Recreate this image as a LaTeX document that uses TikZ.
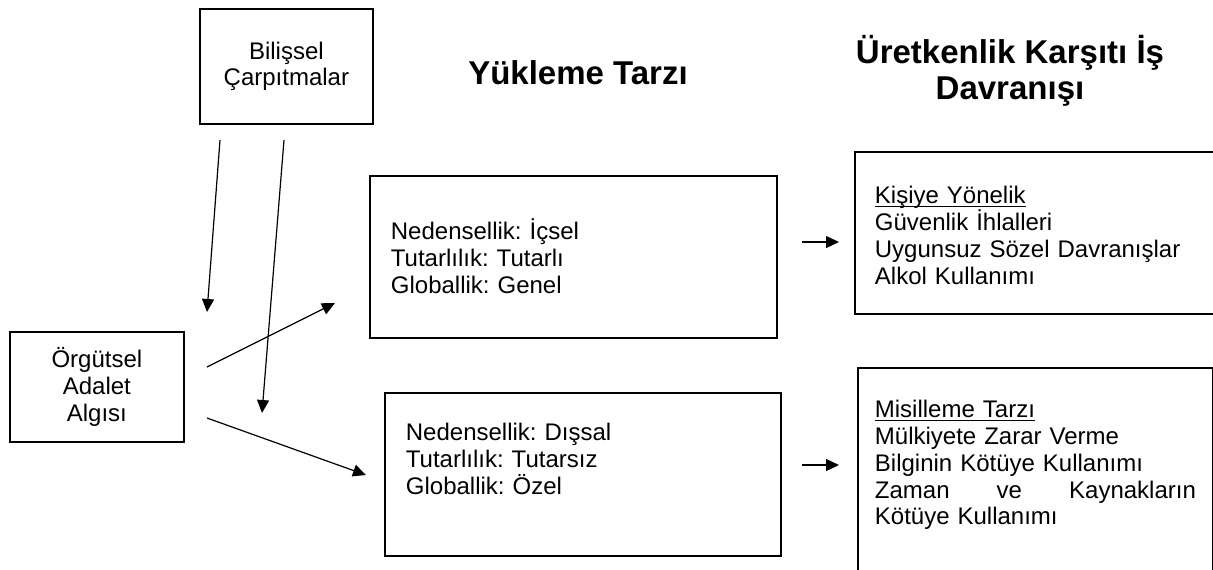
\documentclass[tikz,border=0pt]{standalone}
\usepackage{fontspec}
\setmainfont{Liberation Sans}
\usetikzlibrary{arrows.meta,positioning}
\frenchspacing
\newcommand{\ulin}[1]{\underline{\smash{#1}}}
\tikzset{
  basebox/.style={rectangle,draw=black,line width=0.9pt,
                  font=\fontsize{12}{13.35}\selectfont},
  ctrbox/.style={basebox,align=center,anchor=north west},
  leftbox/.style={basebox,align=left,anchor=north west,inner ysep=0pt},
  headtxt/.style={font=\fontsize{16.5}{18}\selectfont\bfseries,align=center},
  arr/.style={-{Triangle[length=6.5pt,width=6pt]},line width=0.6pt}
}

\begin{document}
\begin{tikzpicture}[x=0.5pt,y=-0.5pt]
  \useasboundingbox (0,0) rectangle (1213,569);

  % Headings
  \node[headtxt] (yukleme) at (578,73) {Yükleme Tarzı};
  \node[headtxt] (uretkenlik) at (1010,71) {Üretkenlik Karşıtı İş\\Davranışı};

  % Left column
  \node[ctrbox,minimum width=86.5pt,minimum height=57.5pt] (bilissel)
      at (199,8) {Bilişsel\\Çarpıtmalar};
  \node[ctrbox,minimum width=87pt,minimum height=55pt] (orgutsel)
      at (9,331) {Örgütsel\\Adalet\\Algısı};

  % Attribution boxes
  \node[leftbox,inner xsep=10.5pt,text width=182.5pt,
        text height=32pt,text depth=49pt] (icsel) at (369,175)
      {Nedensellik: İçsel\\Tutarlılık: Tutarlı\\Globallik: Genel};
  \node[leftbox,inner xsep=10.5pt,text width=177pt,
        text height=24pt,text depth=57.5pt] (dissal) at (384,392)
      {Nedensellik: Dışsal\\Tutarlılık: Tutarsız\\Globallik: Özel};

  % Behaviour boxes
  \node[leftbox,inner xsep=10pt,text width=168pt,
        text height=26pt,text depth=55pt] (kisiye) at (854,151)
      {\ulin{Kişiye Yönelik}\\Güvenlik İhlalleri\\
       Uygunsuz Sözel Davranışlar\\Alkol Kullanımı};
  \node[leftbox,inner xsep=8.5pt,text width=160.5pt,
        text height=25pt,text depth=81.5pt] (misilleme) at (857,367)
      {\ulin{Misilleme Tarzı}\\Mülkiyete Zarar Verme\\
       Bilginin Kötüye Kullanımı\\Zaman\hfill ve\hfill Kaynakların\\
       Kötüye Kullanımı};

  % Arrow ends
  \coordinate (a1s) at (220,140);
  \coordinate (a1e) at (207,312);
  \coordinate (a2s) at (284,140);
  \coordinate (a2e) at (262,413);
  \coordinate (a3s) at (207,367);
  \coordinate (a3e) at (335,303);
  \coordinate (a4s) at (207,418);
  \coordinate (a4e) at (366,475);
  \coordinate (a5s) at (802,242);
  \coordinate (a5e) at (839,242);
  \coordinate (a6s) at (802,465);
  \coordinate (a6e) at (839,465);

  \draw[arr] (a1s) -- (a1e);
  \draw[arr] (a2s) -- (a2e);
  \draw[arr] (a3s) -- (a3e);
  \draw[arr] (a4s) -- (a4e);
  \draw[arr] (a5s) -- (a5e);
  \draw[arr] (a6s) -- (a6e);

\end{tikzpicture}
\end{document}
